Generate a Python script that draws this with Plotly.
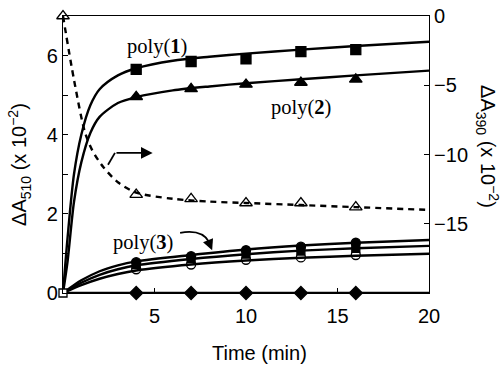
import plotly.graph_objects as go

# ---- data ----
t_pts = [0, 4, 7, 10, 13, 16]
t_marks = [4, 7, 10, 13, 16]

p1_marks = [5.65, 5.85, 5.92, 6.1, 6.15]
p2_marks = [4.96, 5.16, 5.27, 5.32, 5.4]
p3a_marks = [0.78, 0.93, 1.08, 1.17, 1.27]
p3b_marks = [0.72, 0.87, 0.98, 1.06, 1.13]
p3c_marks = [0.6, 0.72, 0.84, 0.9, 0.96]
p3d_marks = [0, 0, 0, 0, 0]
a390_marks = [0, -12.9, -13.2, -13.5, -13.5, -13.8]

t_fast = [0, 0.25, 0.6, 1.0, 1.5, 2, 3, 4, 6, 8, 10, 13, 16, 20]
p1_curve = [0, 1.4, 3.0, 4.0, 4.75, 5.15, 5.5, 5.68, 5.87, 5.97, 6.05, 6.15, 6.24, 6.35]
p2_curve = [0, 0.8, 2.3, 3.3, 4.05, 4.45, 4.8, 4.95, 5.12, 5.22, 5.3, 5.4, 5.5, 5.62]

t_slow = [0, 1, 2, 3, 4, 7, 10, 13, 16, 20]
p3a_curve = [0, 0.32, 0.55, 0.7, 0.8, 0.96, 1.1, 1.2, 1.27, 1.34]
p3b_curve = [0, 0.26, 0.46, 0.6, 0.7, 0.86, 0.98, 1.07, 1.13, 1.19]
p3c_curve = [0, 0.2, 0.36, 0.48, 0.57, 0.72, 0.82, 0.89, 0.94, 0.99]
p3d_curve = [0, 0, 0, 0, 0, 0, 0, 0, 0, 0]

t_dash = [0, 0.6, 1.2, 1.6, 2.2, 3, 4, 6, 8, 10, 13, 16, 20]
a390_curve = [0, -4.6, -8.4, -9.7, -10.9, -12.0, -12.75, -13.2, -13.4, -13.5, -13.65, -13.8, -14.0]

origin_t = [0]
origin_v = [0]

x_ticks = [5, 10, 15, 20]
y_ticks = [0, 1, 2, 3, 4, 5, 6, 7]
y_ticktext = ["0", "", "2", "", "4", "", "6", ""]
y2_ticks = [0, -5, -10, -15]
y2_ticktext = ["0", "\u22125", "\u221210", "\u221215"]

BLACK = "black"
LW = 2.4
fig = go.Figure()

def curve(x, y, yaxis="y", dash="solid"):
    fig.add_trace(go.Scatter(x=x, y=y, mode="lines", yaxis=yaxis,
                             line=dict(color=BLACK, width=LW, shape="spline", smoothing=0.8, dash=dash),
                             cliponaxis=False, showlegend=False, hoverinfo="skip"))

def marks(x, y, symbol, yaxis="y", size=10):
    fig.add_trace(go.Scatter(x=x, y=y, mode="markers", yaxis=yaxis,
                             marker=dict(symbol=symbol, size=size, color=BLACK,
                                         line=dict(color=BLACK, width=1.3)),
                             cliponaxis=False, showlegend=False, hoverinfo="skip"))

curve(t_fast, p1_curve)
curve(t_fast, p2_curve)
curve(t_slow, p3a_curve)
curve(t_slow, p3b_curve)
curve(t_slow, p3c_curve)
curve(t_slow, p3d_curve)
curve(t_dash, a390_curve, yaxis="y2", dash="6px,5px")

marks(t_marks, p1_marks, "square", size=10)
marks(t_marks, p2_marks, "triangle-up", size=11)
marks(t_marks, p3c_marks, "circle-open", size=9)
marks(t_marks, p3b_marks, "square", size=8)
marks(t_marks, p3a_marks, "circle", size=9)
marks(t_marks, p3d_marks, "diamond", size=10)
marks(t_pts, a390_marks, "triangle-up-open", yaxis="y2", size=11)
fig.add_trace(go.Scatter(x=origin_t, y=origin_v, mode="markers",
                         marker=dict(symbol="square", size=8, color="white",
                                     line=dict(color=BLACK, width=1.3)),
                         cliponaxis=False, showlegend=False, hoverinfo="skip"))

tickfont = dict(family="Liberation Sans, Arial, sans-serif", size=20, color=BLACK)
serif = dict(family="Liberation Serif, Times New Roman, serif", size=20.5, color=BLACK)

fig.update_layout(
    width=501, height=365,
    margin=dict(l=63, r=72, t=16, b=72, autoexpand=False),
    paper_bgcolor="white", plot_bgcolor="white",
    xaxis=dict(range=[0, 20], tickvals=x_ticks, ticks="inside", ticklen=5, tickwidth=1,
               tickcolor=BLACK, showline=True, linecolor=BLACK, linewidth=1.2, mirror=True,
               showgrid=False, zeroline=False, tickfont=tickfont, automargin=False,
               ticklabelstandoff=5),
    yaxis=dict(range=[0, 7], tickvals=y_ticks, ticktext=y_ticktext, ticks="inside", ticklen=5,
               tickwidth=1, tickcolor=BLACK, showline=True, linecolor=BLACK, linewidth=1.2,
               showgrid=False, zeroline=False, tickfont=tickfont, automargin=False),
    yaxis2=dict(range=[-20, 0], overlaying="y", side="right", tickvals=y2_ticks,
                ticktext=y2_ticktext, ticks="inside", ticklen=5, tickwidth=1, tickcolor=BLACK,
                showline=True, linecolor=BLACK, linewidth=1.2, showgrid=False, zeroline=False,
                tickfont=tickfont, automargin=False),
)

annos = [
    dict(x=5.15, y=6.23, xref="x", yref="y", text="poly(<b>1</b>)", showarrow=False, font=serif),
    dict(x=13.0, y=4.68, xref="x", yref="y", text="poly(<b>2</b>)", showarrow=False, font=serif),
    dict(x=4.35, y=1.27, xref="x", yref="y", text="poly(<b>3</b>)", showarrow=False, font=serif),
    dict(x=0.538, y=0.5, xref="paper", yref="paper", yshift=-198, text="Time (min)",
         xanchor="center", yanchor="middle", showarrow=False, font=tickfont),
    dict(x=-0.1175, y=0.466, xref="paper", yref="paper",
         text="\u0394A<sub>510</sub> (x 10<sup>\u22122</sup>)", textangle=-90,
         xanchor="center", yanchor="middle", showarrow=False, font=tickfont),
    dict(x=1.161, y=0.527, xref="paper", yref="paper",
         text="\u0394A<sub>390</sub> (x 10<sup>\u22122</sup>)", textangle=90,
         xanchor="center", yanchor="middle", showarrow=False, font=tickfont),
    # bent arrow pointing to right axis
    dict(x=4.9, y=3.54, xref="x", yref="y", ax=2.84, ay=3.54, axref="x", ayref="y",
         text="", showarrow=True, arrowhead=2, arrowsize=1.3, arrowwidth=1.8, arrowcolor=BLACK),
    # curved arrow head for poly(3)
    dict(x=8.15, y=1.08, xref="x", yref="y", ax=7.9, ay=1.36, axref="x", ayref="y",
         text="", showarrow=True, arrowhead=2, arrowsize=1.2, arrowwidth=1.8, arrowcolor=BLACK),
]
fig.update_layout(annotations=annos)

fig.add_shape(type="line", xref="x", yref="y", x0=2.46, y0=3.24, x1=2.84, y1=3.54,
              line=dict(color=BLACK, width=1.8))
fig.add_shape(type="path", xref="x", yref="y", path="M 6.4 1.52 Q 7.6 1.62 8.0 1.28",
              line=dict(color=BLACK, width=1.8))

fig.write_html("out.html", config={"displayModeBar": False},
               post_script="document.body.style.margin='0';document.body.style.padding='0';")
